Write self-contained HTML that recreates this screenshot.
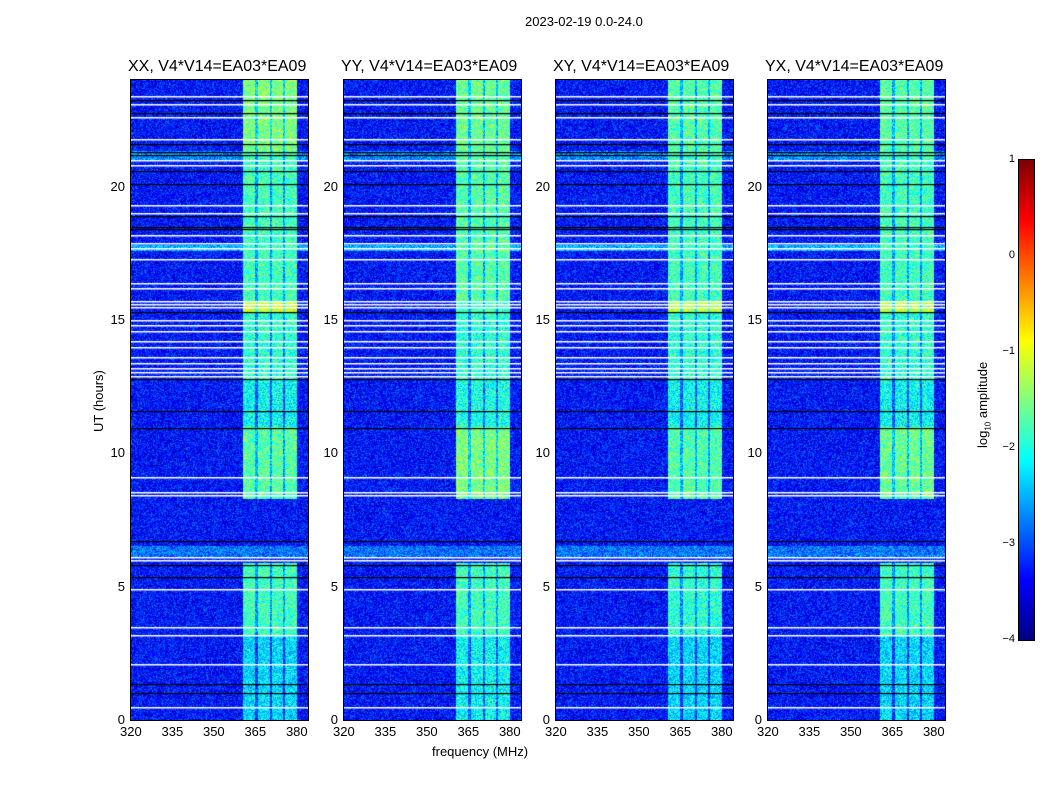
<!DOCTYPE html>
<html><head><meta charset="utf-8"><style>
body{margin:0;background:#fff;font-family:"Liberation Sans",sans-serif;}
#root{position:relative;width:1050px;height:800px;overflow:hidden;background:#fff}
.t{position:absolute;font-size:13px;color:#000;white-space:nowrap}
.ttl{position:absolute;font-size:16px;white-space:nowrap}
canvas{position:absolute}
.frame{position:absolute;border:1px solid #000;box-sizing:border-box}
</style></head><body>
<div id="root">
<div class="t" style="left:525px;top:14px">2023-02-19 0.0-24.0</div>
<div class="t" style="left:432px;top:744px">frequency (MHz)</div>
<div class="t" style="left:91px;top:432px;transform:rotate(-90deg);transform-origin:left top">UT (hours)</div>
<canvas id="cbar" width="15" height="480" style="left:1019px;top:160px"></canvas>
<div class="frame" style="left:1018px;top:159px;width:17px;height:482px"></div>
<div class="t" style="left:975px;top:448px;transform:rotate(-90deg);transform-origin:left top">log<sub style="font-size:8px">10</sub> amplitude</div>
</div>
<script>
const panelNames=["XX","YY","XY","YX"];
const panelLefts=[131,344,556,768];
const freqTicks=[320,335,350,365,380];
const timeTicks=[0,5,10,15,20];
const cbarTicks=[1,0,-1,-2,-3,-4];
const bgLevel=-3.3;
const bandLo=360.5,bandHi=380;
const bandGaps=[365.5,370.6,375.3];
const segStart=[0,3.2,5.9,8.3,11.0,12.7,15.3,15.7,21.3];
const segEnd=[3.2,5.9,8.3,11.0,12.7,15.3,15.7,21.3,24];
const segLevelXX=[-2.3,-1.8,-3.3,-1.7,-2.1,-1.9,-1.1,-1.8,-1.5];
const segLevelYY=[-2.1,-1.8,-3.3,-1.5,-2.0,-1.9,-1.8,-1.7,-1.6];
const segLevelXY=[-2.3,-1.9,-3.3,-1.7,-2.1,-1.9,-1.2,-1.8,-1.7];
const segLevelYX=[-2.3,-1.8,-3.3,-1.6,-2.1,-1.9,-1.2,-1.8,-1.7];
const segLevels=[segLevelXX,segLevelYY,segLevelXY,segLevelYX];
const brightRowHours=[6.2,6.4,17.7,21.1,21.2];
const brightRowLevels=[-2.8,-2.8,-2.5,-2.7,-2.7];
const whiteLineHours=[23.4,23.1,22.6,21.8,21.0,20.8,19.3,19.0,18.2,17.9,17.7,17.3,16.4,16.2,15.7,15.6,15.5,15.0,14.8,14.6,14.2,14.0,13.6,13.4,13.2,13.05,12.9,9.1,8.55,8.45,6.13,6.0,4.9,3.5,3.2,2.1,0.5];
const blackLineHours=[23.25,22.75,21.6,21.3,21.2,20.6,20.1,18.9,18.5,18.4,15.3,12.8,11.6,10.95,6.7,5.8,5.35,1.35,1.0];
const fMin=320,fMax=384,tMin=0,tMax=24;
const PW=177,PH=640,PT=80;
function xScale(f){return (f-fMin)/(fMax-fMin)*PW;}
function yScale(h){return PH-(h-tMin)/(tMax-tMin)*PH;}
function jet(v){let t=(v+4)/5;t=Math.max(0,Math.min(1,t));
 const r=Math.max(0,Math.min(1,1.5-Math.abs(4*t-3))),g=Math.max(0,Math.min(1,1.5-Math.abs(4*t-2))),b=Math.max(0,Math.min(1,1.5-Math.abs(4*t-1)));
 return [r*255|0,g*255|0,b*255|0];}
function hash(a,b,c){let h=(a*374761393+b*668265263+c*2147483647)|0;h=(h^(h>>>13))*1274126177|0;return ((h^(h>>>16))>>>0)/4294967296;}
const root=document.getElementById('root');
panelNames.forEach((nm,p)=>{
 const L=panelLefts[p];
 const cv=document.createElement('canvas');cv.width=PW;cv.height=PH;cv.style.left=L+'px';cv.style.top=PT+'px';
 
 
 root.appendChild(cv);
 const ctx=cv.getContext('2d');const img=ctx.createImageData(PW,PH);
 for(let y=0;y<PH;y++){const h=tMax-(y+0.5)/PH*(tMax-tMin);
  let si=segStart.findIndex((s,i)=>h>=s&&h<segEnd[i]);if(si<0)si=segStart.length-1;
  let rowBoost=null;brightRowHours.forEach((rh,i)=>{if(Math.abs(h-rh)<0.12)rowBoost=brightRowLevels[i];});
  for(let x=0;x<PW;x++){const f=fMin+(x+0.5)/PW*(fMax-fMin);
   let v=bgLevel;
   if(f>=bandLo&&f<=bandHi&&segLevels[p][si]>bgLevel){v=segLevels[p][si];
    bandGaps.forEach(g=>{if(Math.abs(f-g)<0.5)v-=0.8;});}
   if(rowBoost!==null)v=Math.max(v,rowBoost);
   v+=(hash(x,y,p)-0.5)*1.0;
   const c=jet(v);const k=(y*PW+x)*4;img.data[k]=c[0];img.data[k+1]=c[1];img.data[k+2]=c[2];img.data[k+3]=255;}}
 ctx.putImageData(img,0,0);
 ctx.fillStyle='#fff';whiteLineHours.forEach(h=>ctx.fillRect(0,Math.round(yScale(h)),PW,1.5));
 ctx.fillStyle='#000';blackLineHours.forEach(h=>ctx.fillRect(0,Math.round(yScale(h)),PW,1.2));
 const fr=document.createElement('div');fr.className='frame';fr.style.cssText=`left:${L-1}px;top:${PT-1}px;width:${PW+2}px;height:${PH+2}px`;
 
 
 root.appendChild(fr);
 const tt=document.createElement('div');tt.className='ttl';tt.textContent=nm+', V4*V14=EA03*EA09';tt.style.left=(L-3)+'px';tt.style.top='58px';
 
 
 root.appendChild(tt);
 freqTicks.forEach(f=>{const d=document.createElement('div');d.className='t';d.textContent=f;d.style.left=(L+xScale(f)-11)+'px';d.style.top='724px';
  
  
  root.appendChild(d);});
 timeTicks.forEach(h=>{const d=document.createElement('div');d.className='t';d.textContent=h;d.style.top=(PT+yScale(h)-8)+'px';d.style.right=(1050-L+6)+'px';
  
  
  root.appendChild(d);});
});
const cb=document.getElementById('cbar').getContext('2d');
for(let y=0;y<480;y++){const v=1-y/480*5;const c=jet(v);cb.fillStyle=`rgb(${c[0]},${c[1]},${c[2]})`;cb.fillRect(0,y,15,1);}
cbarTicks.forEach(v=>{const d=document.createElement('div');d.className='t';d.style.fontSize='11px';d.textContent=v<0?'\u2212'+(-v):String(v);
 d.style.right=(1050-1015)+'px';d.style.top=(160+(1-v)/5*480-7)+'px';
 
 
 root.appendChild(d);});
</script>
</body></html>
